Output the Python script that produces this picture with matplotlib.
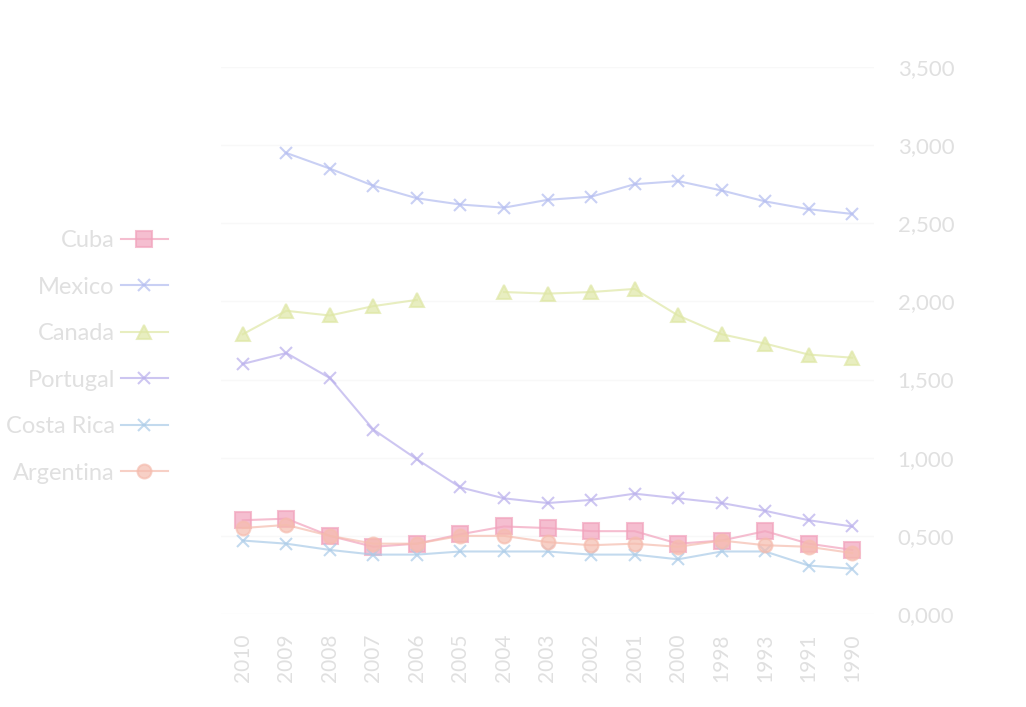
import matplotlib
matplotlib.use("Agg")
import matplotlib.pyplot as plt
import numpy as np

plt.rcParams["font.family"] = ["Lato", "DejaVu Sans"]

# ── Data (display order, left to right) ───────────────────
years = ["2010", "2009", "2008", "2007", "2006", "2005", "2004", "2003",
         "2002", "2001", "2000", "1998", "1993", "1991", "1990"]

cuba       = [0.60, 0.61, 0.50, 0.43, 0.45, 0.51, 0.56, 0.55, 0.53, 0.53, 0.45, 0.47, 0.53, 0.45, 0.41]
mexico     = [np.nan, 2.95, 2.85, 2.74, 2.66, 2.62, 2.60, 2.65, 2.67, 2.75, 2.77, 2.71, 2.64, 2.59, 2.56]
canada     = [1.79, 1.94, 1.91, 1.97, 2.01, np.nan, 2.06, 2.05, 2.06, 2.08, 1.91, 1.79, 1.73, 1.66, 1.64]
portugal   = [1.60, 1.67, 1.51, 1.18, 0.99, 0.81, 0.74, 0.71, 0.73, 0.77, 0.74, 0.71, 0.66, 0.60, 0.56]
costa_rica = [0.47, 0.45, 0.41, 0.38, 0.38, 0.40, 0.40, 0.40, 0.38, 0.38, 0.35, 0.40, 0.40, 0.31, 0.29]
argentina  = [0.55, 0.57, 0.50, 0.45, 0.45, 0.50, 0.50, 0.46, 0.44, 0.45, 0.43, 0.47, 0.44, 0.43, 0.39]

series = [
    ("Cuba",       cuba,       "#f2a3bd", "s", 11),
    ("Mexico",     mexico,     "#b3bcf0", "x", 8),
    ("Canada",     canada,     "#dfe7a6", "^", 10),
    ("Portugal",   portugal,   "#b9afec", "x", 8),
    ("Costa Rica", costa_rica, "#aacbe8", "x", 8),
    ("Argentina",  argentina,  "#f5bcae", "o", 10),
]

text_col = "#e0e0e0"

# ── Figure ────────────────────────────────────────────────
fig = plt.figure(figsize=(10.26, 7.07), dpi=100)
ax = fig.add_axes([221 / 1026, 1 - 614 / 707, (874 - 221) / 1026, (614 - 67) / 707])

x = np.arange(len(years))
for name, vals, col, mk, ms in series:
    ax.plot(x, vals, color=col, lw=1.5, marker=mk, ms=ms,
            mec=col, mfc=col, mew=1.5, label=name, alpha=0.7)

ax.set_xlim(-0.5, len(years) - 0.5)
ax.set_ylim(0, 3.5)
ax.set_xticks(x)
ax.set_xticklabels(years, rotation=90, fontsize=15, color=text_col)
ax.set_yticks(np.arange(0, 3.51, 0.5))
ax.set_yticklabels([f"{v:.3f}".replace(".", ",") for v in np.arange(0, 3.51, 0.5)],
                   fontsize=16, color=text_col)
ax.yaxis.tick_right()
ax.tick_params(axis="both", length=0)
ax.tick_params(axis="x", pad=14)
ax.tick_params(axis="y", pad=17)
ax.grid(axis="y", color="#f8f8f8", lw=1)
ax.set_axisbelow(True)
for s in ax.spines.values():
    s.set_visible(False)

leg = fig.legend(loc="center right", bbox_to_anchor=(168 / 1026, 1 - 357 / 707),
                 frameon=False, markerfirst=False, fontsize=17,
                 labelspacing=1.08, handlelength=2.0, handletextpad=0.25,
                 borderaxespad=0, borderpad=0)
for t in leg.get_texts():
    t.set_color(text_col)
for h in leg.legend_handles:
    h.set_alpha(0.7)

fig.savefig("out.png", dpi=100)
